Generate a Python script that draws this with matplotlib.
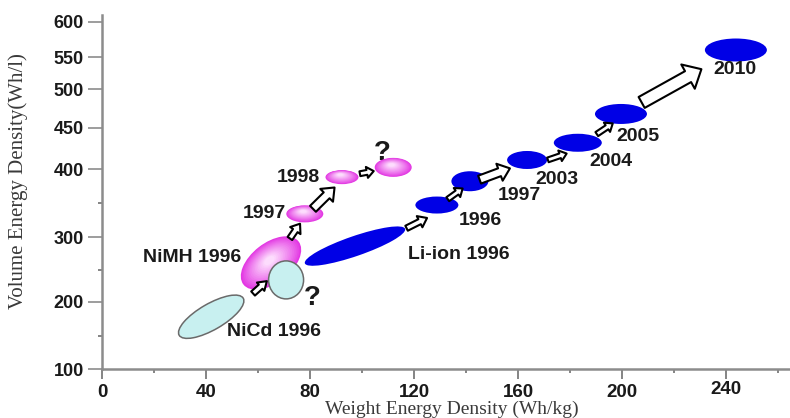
import numpy as np
import matplotlib.pyplot as plt
from matplotlib.patches import Ellipse, FancyArrowPatch
from matplotlib.transforms import ScaledTranslation

plt.rcParams['font.family'] = ['Liberation Sans', 'DejaVu Sans']

# 纵轴在原图里不是线性的：刻度值和它们距 100 线的像素高度
vol_ticks = [100, 200, 300, 400, 450, 500, 550, 600]
vol_pos = [0, 67, 132, 200, 241, 280, 312, 347]
vol_minor = [150, 250, 350]
weight_ticks = [0, 40, 80, 120, 160, 200, 240]
weight_minor = [20, 60, 100, 140, 180, 220, 260]

# NiCd
nicd_labels = ['NiCd 1996', '?']
nicd_weight = [42, 70.8]
nicd_volume = [178, 234]

# NiMH
nimh_labels = ['NiMH 1996', '1997', '1998', '?']
nimh_weight = [65, 78, 92.3, 112]
nimh_volume = [260, 334, 388, 402]

# Li-ion
li_labels = ['Li-ion 1996', '1996', '1997', '2003', '2004', '2005', '2010']
li_weight = [97.3, 128.8, 141.5, 163.5, 183, 199.6, 243.8]
li_volume = [286, 347, 382, 411, 432, 468, 560]


def vpos(v):
    return np.interp(v, vol_ticks, vol_pos)


fig = plt.figure(figsize=(7.9, 4.18), dpi=100)
ax = fig.add_axes([102 / 790, 49 / 418, 688 / 790, 354 / 418])
ax.set_xlim(0, 688 / 2.6)
ax.set_ylim(0, 354)


def anchor(x, y):
    # 以数据点为原点、单位为英寸的坐标变换
    return fig.dpi_scale_trans + ScaledTranslation(x, vpos(y), ax.transData)


def blob(x, y, w, h, angle, **kw):
    e = Ellipse((0, 0), w / 100, h / 100, angle=angle, transform=anchor(x, y), **kw)
    ax.add_patch(e)


def pink_blob(x, y, w, h, angle):
    edge = np.array([0.89, 0.22, 0.89])
    core = np.array([1.0, 0.9, 1.0])
    n = 16
    for k in range(n):
        s = 1 - k / n * 0.88
        c = edge + (core - edge) * (k / n) ** 0.9
        e = Ellipse((-0.02 * (1 - s), 0.03 * (1 - s)), w * s / 100, h * s / 100, angle=angle,
                    transform=anchor(x, y), fc=c, ec='none', zorder=3)
        ax.add_patch(e)


def hollow_arrow(xs, ys, i, t0, t1, off, tw, hw, hl):
    x0, y0 = xs[i], vpos(ys[i])
    x1, y1 = xs[i + 1], vpos(ys[i + 1])
    pa = (x0 + (x1 - x0) * t0, y0 + (y1 - y0) * t0)
    pb = (x0 + (x1 - x0) * t1, y0 + (y1 - y0) * t1)
    tr = ax.transData + ScaledTranslation(off[0] / 100, -off[1] / 100, fig.dpi_scale_trans)
    arr = FancyArrowPatch(pa, pb, arrowstyle=f'simple,head_length={hl},head_width={hw},tail_width={tw}',
                          mutation_scale=1, fc='white', ec='black', lw=1.5, shrinkA=0, shrinkB=0,
                          transform=tr, zorder=4)
    ax.add_patch(arr)


# NiCd 椭圆（问号那个圆压在 NiMH 上面）
nicd_size = [(74, 26, 30), (35, 38, 0)]
for x, y, (w, h, a) in zip(nicd_weight, nicd_volume, nicd_size):
    blob(x, y, w, h, a, fc='#c8f0f0', ec='#6a6a6a', lw=1.1, zorder=3.5)

# NiMH 椭圆
nimh_size = [(70, 40, 38), (37, 17, 0), (33, 14, 0), (37, 19, 0)]
for x, y, (w, h, a) in zip(nimh_weight, nimh_volume, nimh_size):
    pink_blob(x, y, w, h, a)

# Li-ion 椭圆
li_size = [(106, 20, 19), (43, 17, 0), (37, 20, 0), (40, 18, 0), (48, 18, 0), (52, 20, 0), (62, 23, 0)]
for x, y, (w, h, a) in zip(li_weight, li_volume, li_size):
    blob(x, y, w, h, a, fc='#0000e6', ec='none', zorder=3)

# 空心箭头：沿两椭圆中心连线的起止比例、像素偏移、箭头尺寸
hollow_arrow([nicd_weight[0], nimh_weight[0]], [nicd_volume[0], nimh_volume[0]],
             0, 0.6, 0.83, (6, 9), 4, 8, 6)
nimh_arrows = [(0.5, 0.8, (2, 0), 4, 9, 6), (0.22, 0.8, (0, 3), 6, 13, 8), (0.35, 0.62, (0, 0), 3.5, 8, 5)]
for i, (t0, t1, off, tw, hw, hl) in enumerate(nimh_arrows):
    hollow_arrow(nimh_weight, nimh_volume, i, t0, t1, off, tw, hw, hl)
li_arrows = [(0.63, 0.88, (0, 8), 4, 9, 6), (0.33, 0.78, (0, 2), 3.5, 8, 5), (0.17, 0.7, (0, 2), 6, 13, 8),
             (0.41, 0.78, (0, 7), 3.5, 8, 5), (0.44, 0.81, (0, 4), 3.5, 8, 5), (0.18, 0.7, (0, 0), 9, 20, 11)]
for i, (t0, t1, off, tw, hw, hl) in enumerate(li_arrows):
    hollow_arrow(li_weight, li_volume, i, t0, t1, off, tw, hw, hl)


# 文字标注（偏移量单位：像素）
def tag(text, x, y, dx, dy, size=14, z=5):
    ax.annotate(text, (x, vpos(y)), xytext=(dx * 0.72, -dy * 0.72), textcoords='offset points',
                ha='center', va='center', fontsize=size, fontweight='bold', color='#1a1a1a', zorder=z)


nicd_off = [(63, 15, 14), (26, 18, 20)]
for lab, x, y, (dx, dy, s) in zip(nicd_labels, nicd_weight, nicd_volume, nicd_off):
    tag(lab, x, y, dx, dy, s)
nimh_off = [(-79, -6, 14), (-40, 0, 14), (-44, 0, 14), (-11, -14, 20)]
for lab, x, y, (dx, dy, s) in zip(nimh_labels, nimh_weight, nimh_volume, nimh_off):
    tag(lab, x, y, dx, dy, s, z=2.5)
li_off = [(104, 8), (43, 15), (49, 14), (30, 20), (33, 19), (17, 23), (-1, 20)]
for lab, x, y, (dx, dy) in zip(li_labels, li_weight, li_volume, li_off):
    tag(lab, x, y, dx, dy)

# 坐标轴
for side in ['top', 'right']:
    ax.spines[side].set_visible(False)
for side in ['left', 'bottom']:
    ax.spines[side].set_color('#8c8c8c')
    ax.spines[side].set_linewidth(1.8)

ax.set_xticks(weight_ticks)
ax.set_xticks(weight_minor, minor=True)
ax.set_yticks(vpos(vol_ticks))
ax.set_yticklabels([str(v) for v in vol_ticks])
ax.set_yticks(vpos(vol_minor), minor=True)
ax.tick_params(axis='x', which='major', length=7, width=1.2, color='#707070', labelsize=13.5, pad=4)
ax.tick_params(axis='y', which='major', length=10, width=1.2, color='#8c8c8c', labelsize=13, pad=3)
ax.tick_params(axis='both', which='minor', length=3, width=1.2, color='#707070')
for lab in ax.get_xticklabels() + ax.get_yticklabels():
    lab.set_fontweight('bold')
    lab.set_color('#1a1a1a')
last = ax.get_xticklabels()[-1]
last.set_transform(last.get_transform() + ScaledTranslation(0, 0.03, fig.dpi_scale_trans))

ax.set_xlabel('Weight Energy Density (Wh/kg)', family='Liberation Serif', fontsize=14,
              color='#3a3a3a')
ax.set_ylabel('Volume Energy Density(Wh/l)', family='Liberation Serif', fontsize=15,
              color='#3a3a3a')
ax.xaxis.set_label_coords(0.508, -0.09)
ax.yaxis.set_label_coords(-0.108, 0.53)

fig.savefig('out.png', dpi=100)
